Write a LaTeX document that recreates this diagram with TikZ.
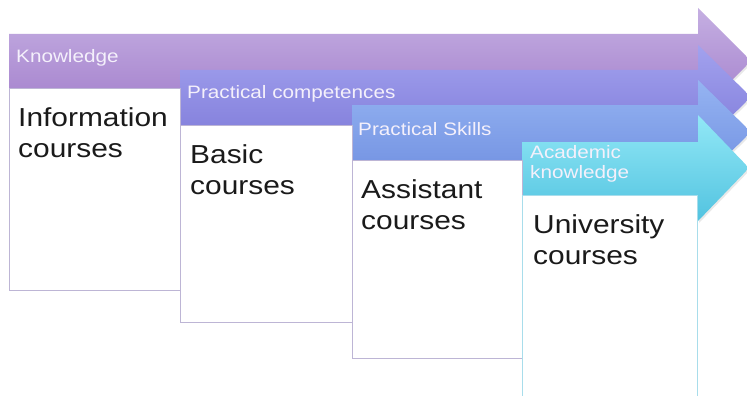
\documentclass[tikz,border=0pt]{standalone}
\usepackage{fontspec}
\setmainfont[FakeStretch=1.15]{Liberation Sans}
\usetikzlibrary{shadows}
\definecolor{kTop}{HTML}{C5AFE2}
\definecolor{kBot}{HTML}{A27ECB}
\definecolor{pcTop}{HTML}{A2A2EE}
\definecolor{pcBot}{HTML}{7F7AD9}
\definecolor{psTop}{HTML}{95B4F2}
\definecolor{psBot}{HTML}{6F8EE0}
\definecolor{akTop}{HTML}{92E8F6}
\definecolor{akBot}{HTML}{52C3E0}
\definecolor{labeltext}{HTML}{F4F0FB}
\definecolor{boxline}{HTML}{BDB5D5}
\definecolor{boxlinecyan}{HTML}{A8DDEB}
\definecolor{textdark}{HTML}{1A1A1A}
\tikzset{
  arrowshape/.style={draw=none, drop shadow={opacity=0.18, shadow xshift=1pt, shadow yshift=-2pt}},
  coursebox/.style={draw=boxline, line width=0.9pt, fill=white, anchor=north west, inner sep=0pt},
  lbl/.style={anchor=base west, text=labeltext, font=\fontsize{18}{20}\selectfont, inner sep=0pt, align=left},
  ctext/.style={anchor=north west, align=left, font=\fontsize{26}{31}\selectfont, text=textdark, inner sep=0pt}
}
\begin{document}
\begin{tikzpicture}[x=1pt,y=-1pt]
\clip (0,0) rectangle (747,396);
\fill[white] (0,0) rectangle (747,396);
% arrows
\path[arrowshape, top color=kTop, bottom color=kBot]
  (9,34) -- (698,34) -- (698,8) -- (751,61) -- (698,114) -- (698,88) -- (9,88) -- cycle;
\path[arrowshape, top color=pcTop, bottom color=pcBot]
  (180,70) -- (698,70) -- (698,45) -- (751,97) -- (698,149) -- (698,125) -- (180,125) -- cycle;
\path[arrowshape, top color=psTop, bottom color=psBot]
  (352,105) -- (698,105) -- (698,80) -- (751,132) -- (698,184) -- (698,160) -- (352,160) -- cycle;
\path[arrowshape, top color=akTop, bottom color=akBot]
  (522,142) -- (698,142) -- (698,115) -- (749,168) -- (698,221) -- (698,195) -- (522,195) -- cycle;
% labels
\node[lbl] (lk) at (16,63) {Knowledge};
\node[lbl] (lpc) at (187,98) {Practical competences};
\node[lbl, anchor=north west] (lak) at (530,145) {Academic\\knowledge};
\node[lbl] (lps) at (358,135) {Practical Skills};
% boxes
\node[coursebox, minimum width=171pt, minimum height=202pt] (b1) at (9,88) {};
\node[coursebox, minimum width=172pt, minimum height=197pt] (b2) at (180,125) {};
\node[coursebox, minimum width=170pt, minimum height=198pt] (b3) at (352,160) {};
\node[coursebox, draw=boxlinecyan, minimum width=175pt, minimum height=210pt] (b4) at (522,195) {};
% box texts
\node[ctext] (t1) at (18,107) {Information\\courses};
\node[ctext] (t2) at (190,144) {Basic\\courses};
\node[ctext] (t3) at (361,179) {Assistant\\courses};
\node[ctext] (t4) at (533,214) {University\\courses};
\end{tikzpicture}
\end{document}
